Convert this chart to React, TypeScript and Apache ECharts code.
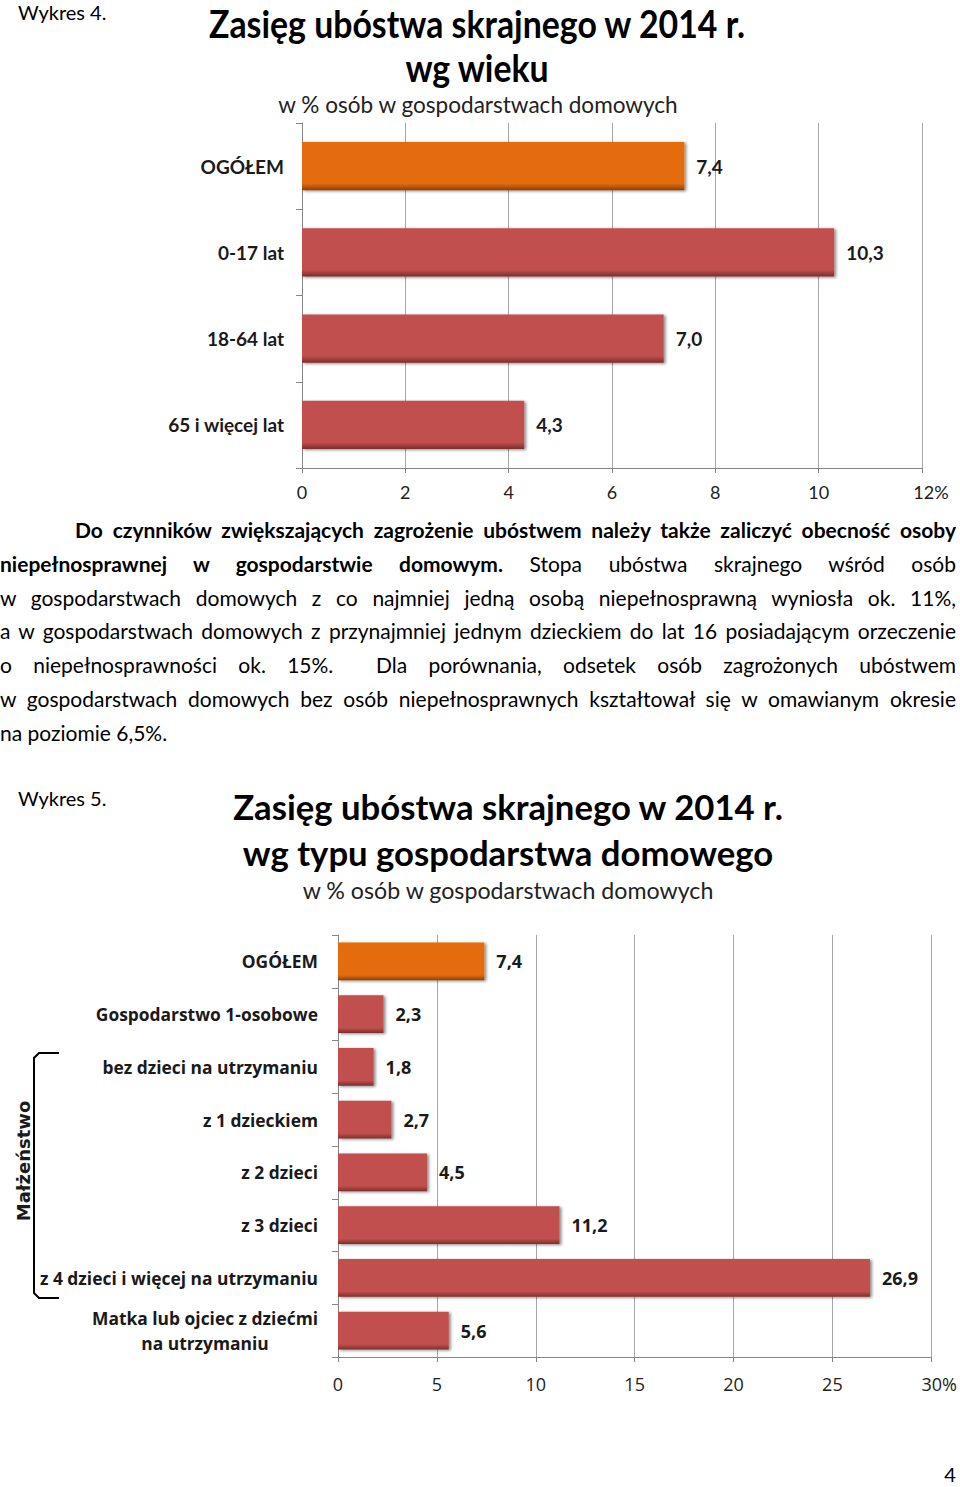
import React, { useEffect, useRef } from "react";
import * as echarts from "echarts";

const ageCategories = ["OGÓŁEM", "0-17 lat", "18-64 lat", "65 i więcej lat"];
const ageValues = [7.4, 10.3, 7.0, 4.3];

const hhCategories = [
  "OGÓŁEM",
  "Gospodarstwo 1-osobowe",
  "bez dzieci na utrzymaniu",
  "z 1 dzieckiem",
  "z 2 dzieci",
  "z 3 dzieci",
  "z 4 dzieci i więcej na utrzymaniu",
  "Matka lub ojciec z dziećmi\nna utrzymaniu",
];
const hhValues = [7.4, 2.3, 1.8, 2.7, 4.5, 11.2, 26.9, 5.6];

const F1 = 'Lato, "Open Sans", sans-serif';
const F2 = '"Open Sans", sans-serif';
const FP = 'Lato, "Open Sans", sans-serif';
const FD = '"DejaVu Sans", sans-serif';

const ORANGE = "#E46C0A";
const RED = "#C0504D";

function barStyle(base: string, dark: string) {
  return {
    color: new echarts.graphic.LinearGradient(0, 0, 0, 1, [
      { offset: 0, color: base },
      { offset: 0.86, color: base },
      { offset: 1, color: dark },
    ]),
    shadowColor: "rgba(0,0,0,0.45)",
    shadowBlur: 3,
    shadowOffsetX: 2,
    shadowOffsetY: 1,
  };
}

const fmt = (v: number) => v.toFixed(1).replace(".", ",");

export default function App() {
  const ref = useRef<HTMLDivElement>(null);
  useEffect(() => {
    if (!ref.current) return;
    const chart = echarts.init(ref.current, undefined, { renderer: "svg" });
    const gridLine = { color: "#a6a6a6", width: 1 };
    const axisCol = { color: "#868686", width: 1 };
    chart.setOption({
      animation: false,
      backgroundColor: "#ffffff",
      grid: [
        { left: 302, top: 123, width: 620, height: 345 },
        { left: 338, top: 935, width: 594, height: 422 },
      ],
      xAxis: [
        {
          gridIndex: 0,
          type: "value",
          min: 0,
          max: 12,
          interval: 2,
          axisLine: { show: true, lineStyle: axisCol },
          axisTick: { show: true, length: 5, lineStyle: axisCol },
          splitLine: { show: true, lineStyle: gridLine },
          axisLabel: {
            margin: 15,
            fontFamily: F1,
            fontSize: 18,
            color: "#222",
            formatter: (v: number) => (v === 12 ? "{l|12%}" : String(v)),
            rich: { l: { padding: [0, 0, 0, 18], fontFamily: F1, fontSize: 18, color: "#222" } },
          },
        },
        {
          gridIndex: 1,
          type: "value",
          min: 0,
          max: 30,
          interval: 5,
          axisLine: { show: true, lineStyle: axisCol },
          axisTick: { show: true, length: 5, lineStyle: axisCol },
          splitLine: { show: true, lineStyle: gridLine },
          axisLabel: {
            margin: 18,
            fontFamily: F2,
            fontSize: 18,
            color: "#222",
            formatter: (v: number) => (v === 30 ? "{l|30%}" : String(v)),
            rich: { l: { padding: [0, 0, 0, 16], fontFamily: F2, fontSize: 18, color: "#222" } },
          },
        },
      ],
      yAxis: [
        {
          gridIndex: 0,
          type: "category",
          inverse: true,
          data: ageCategories,
          axisLine: { show: true, lineStyle: axisCol },
          axisTick: { show: true, length: 6, lineStyle: axisCol },
          axisLabel: { margin: 18, fontFamily: F1, fontWeight: "bold", fontSize: 19, color: "#1a1a1a" },
        },
        {
          gridIndex: 1,
          type: "category",
          inverse: true,
          data: hhCategories,
          axisLine: { show: true, lineStyle: axisCol },
          axisTick: { show: true, length: 6, lineStyle: axisCol },
          axisLabel: {
            margin: 20,
            fontFamily: F2,
            fontWeight: "bold",
            fontSize: 17.4,
            color: "#1a1a1a",
            formatter: (v: string) =>
              v.includes("\n") ? v.split("\n").map((s) => `{c|${s}}`).join("\n") : v,
            rich: {
              c: { align: "center", fontFamily: F2, fontWeight: "bold", fontSize: 17.4, color: "#1a1a1a", lineHeight: 25 },
            },
          },
        },
      ],
      series: [
        {
          type: "bar",
          xAxisIndex: 0,
          yAxisIndex: 0,
          barWidth: "56%",
          data: ageValues.map((v, i) => ({
            value: v,
            itemStyle: i === 0 ? barStyle(ORANGE, "#8a3f05") : barStyle(RED, "#7a2e2c"),
          })),
          label: {
            show: true,
            position: "right",
            distance: 12,
            formatter: (p: any) => fmt(p.value),
            fontFamily: F1,
            fontWeight: "bold",
            fontSize: 19,
            color: "#1a1a1a",
          },
        },
        {
          type: "bar",
          xAxisIndex: 1,
          yAxisIndex: 1,
          barWidth: "72%",
          data: hhValues.map((v, i) => ({
            value: v,
            itemStyle: i === 0 ? barStyle(ORANGE, "#8a3f05") : barStyle(RED, "#7a2e2c"),
          })),
          label: {
            show: true,
            position: "right",
            distance: 12,
            formatter: (p: any) => fmt(p.value),
            fontFamily: F2,
            fontWeight: "bold",
            fontSize: 18,
            color: "#1a1a1a",
          },
        },
      ],
      graphic: [
        { type: "text", x: 18, y: 12, style: { text: "Wykres 4.", fontFamily: FP, fontSize: 20, fill: "#000", textAlign: "left", textVerticalAlign: "middle" } },
        { type: "text", x: 477, y: 23, scaleX: 0.89, style: { text: "Zasięg ubóstwa skrajnego w 2014 r.", fontFamily: FP, fontWeight: "bold", fontSize: 38, fill: "#000", textAlign: "center", textVerticalAlign: "middle" } },
        { type: "text", x: 477, y: 67, scaleX: 0.89, style: { text: "wg wieku", fontFamily: FP, fontWeight: "bold", fontSize: 38, fill: "#000", textAlign: "center", textVerticalAlign: "middle" } },
        { type: "text", x: 478, y: 104, scaleX: 0.94, style: { text: "w % osób w gospodarstwach domowych", fontFamily: FP, fontSize: 24, fill: "#222", textAlign: "center", textVerticalAlign: "middle" } },

        { type: "text", x: 18, y: 798, style: { text: "Wykres 5.", fontFamily: FP, fontSize: 20, fill: "#000", textAlign: "left", textVerticalAlign: "middle" } },
        { type: "text", x: 508, y: 806, style: { text: "Zasięg ubóstwa skrajnego w 2014 r.", fontFamily: FP, fontWeight: "bold", fontSize: 34.7, fill: "#000", textAlign: "center", textVerticalAlign: "middle" } },
        { type: "text", x: 508, y: 852, style: { text: "wg typu gospodarstwa domowego", fontFamily: FP, fontWeight: "bold", fontSize: 34.7, fill: "#000", textAlign: "center", textVerticalAlign: "middle" } },
        { type: "text", x: 508, y: 890, style: { text: "w % osób w gospodarstwach domowych", fontFamily: FP, fontSize: 23.2, fill: "#222", textAlign: "center", textVerticalAlign: "middle" } },

        {
          type: "polyline",
          shape: { points: [[59, 1053], [39, 1053], [34, 1058], [34, 1293], [39, 1298], [59, 1298]] },
          style: { stroke: "#000", lineWidth: 2, fill: null },
        },
        { type: "text", x: 23, y: 1161, rotation: Math.PI / 2, style: { text: "Małżeństwo", fontFamily: FD, fontWeight: "bold", fontSize: 18, fill: "#1a1a1a", textAlign: "center", textVerticalAlign: "middle" } },
        { type: "text", x: 950, y: 1474, style: { text: "4", fontFamily: FP, fontSize: 20, fill: "#000", textAlign: "center", textVerticalAlign: "middle" } },
      ],
    });
    return () => chart.dispose();
  }, []);

  const lineStyle: React.CSSProperties = {
    height: 33.8,
    lineHeight: "33.8px",
    textAlign: "justify",
    textAlignLast: "justify",
    whiteSpace: "normal",
    overflow: "hidden",
  };
  const lastStyle: React.CSSProperties = { ...lineStyle, textAlign: "left", textAlignLast: "left" };

  return (
    <div style={{ position: "absolute", left: 0, top: 0, width: 960, height: 1487, background: "#fff" }}>
      <div ref={ref} style={{ position: "absolute", left: 0, top: 0, width: 960, height: 1487 }} />
      <div
        style={{
          position: "absolute",
          left: 0,
          top: 513,
          width: 956,
          fontFamily: FP,
          fontSize: 21,
          color: "#000",
        }}
      >
        <div style={{ ...lineStyle, paddingLeft: 75, fontWeight: "bold" }}>
          Do czynników zwiększających zagrożenie ubóstwem należy także zaliczyć obecność osoby
        </div>
        <div style={lineStyle}>
          <b>niepełnosprawnej w gospodarstwie domowym.</b> Stopa ubóstwa skrajnego wśród osób
        </div>
        <div style={lineStyle}>
          w gospodarstwach domowych z co najmniej jedną osobą niepełnosprawną wyniosła ok. 11%,
        </div>
        <div style={lineStyle}>
          a w gospodarstwach domowych z przynajmniej jednym dzieckiem do lat 16 posiadającym orzeczenie
        </div>
        <div style={lineStyle}>
          o niepełnosprawności ok. 15%.&nbsp; Dla porównania, odsetek osób zagrożonych ubóstwem
        </div>
        <div style={lineStyle}>
          w gospodarstwach domowych bez osób niepełnosprawnych kształtował się w omawianym okresie
        </div>
        <div style={lastStyle}>na poziomie 6,5%.</div>
      </div>
    </div>
  );
}
